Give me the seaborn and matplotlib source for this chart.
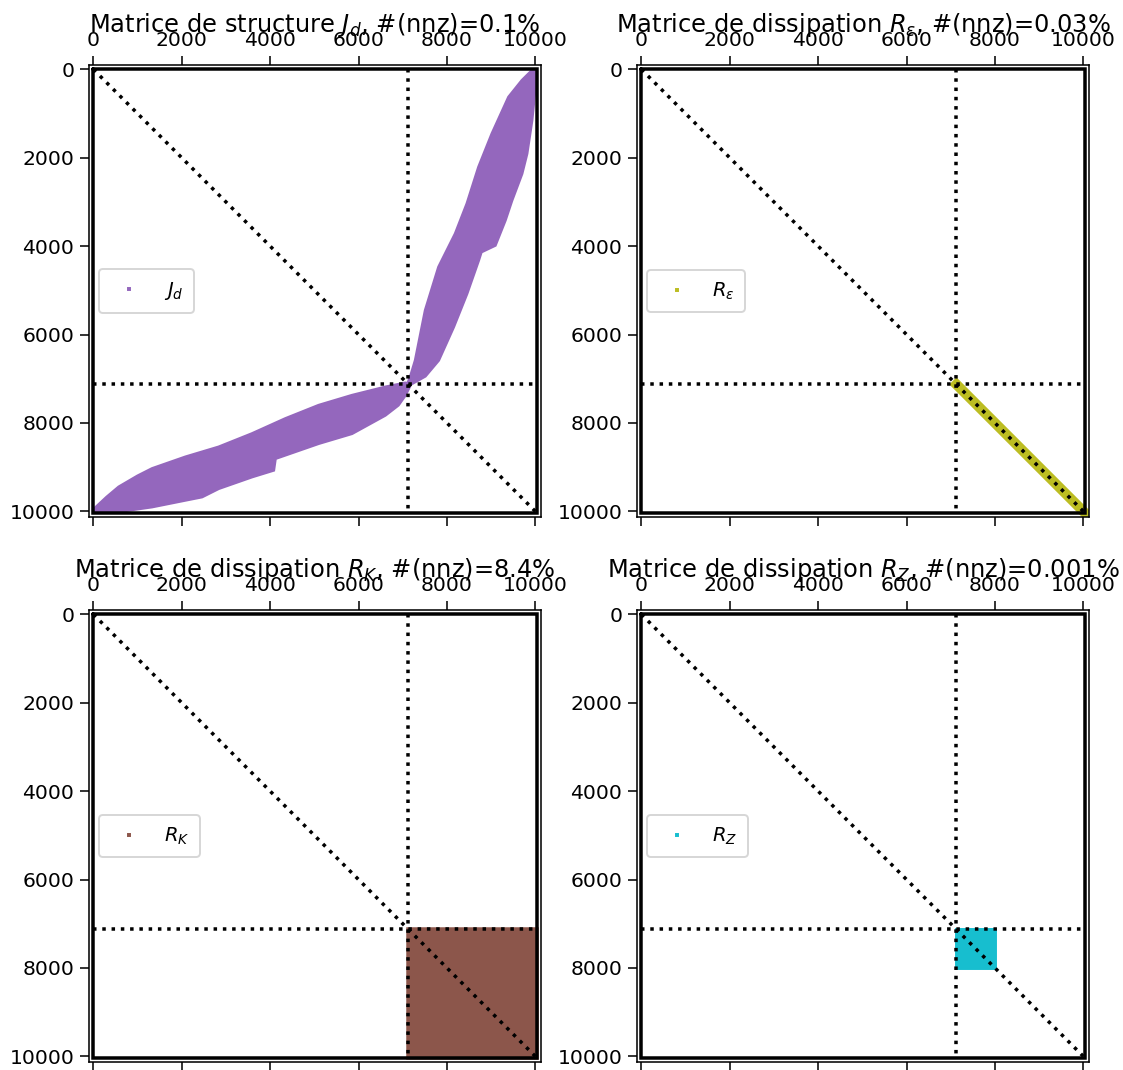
import numpy as np
import pandas as pd
import matplotlib
matplotlib.use("Agg")
import matplotlib.pyplot as plt
import seaborn as sns

# ---------------- data ----------------
N = 10030            # matrix size
n1 = 7130            # block split index

titles = [
    r"Matrice de structure $J_d$, #(nnz)=0.1%",
    r"Matrice de dissipation $R_\varepsilon$, #(nnz)=0.03%",
    r"Matrice de dissipation $R_K$, #(nnz)=8.4%",
    r"Matrice de dissipation $R_Z$, #(nnz)=0.001%",
]
labels = [r"$J_d$", r"$R_\varepsilon$", r"$R_K$", r"$R_Z$"]
colors = ["#9467bd", "#bcbd22", "#8c564b", "#17becf"]
tick_values = [0, 2000, 4000, 6000, 8000, 10000]

# J_d : lower-left branch (upper edge / lower edge)
jd_low_top_cols = [0, 300, 573, 1000, 1328, 2081, 2835, 3590, 4344, 5097, 5852, 6606, 7059, 7130]
jd_low_top_rows = [9960, 9680, 9450, 9200, 9034, 8771, 8545, 8243, 7903, 7602, 7376, 7188, 7097, 7110]
jd_low_bot_cols = [0, 573, 1328, 2081, 2458, 2835, 3590, 4080, 4118, 5097, 5852, 6606, 6900, 7059, 7160]
jd_low_bot_rows = [10030, 10010, 9902, 9751, 9676, 9487, 9223, 9072, 8808, 8468, 8243, 7828, 7600, 7376, 7170]
# J_d : upper-right branch (left edge / right edge)
jd_up_left_cols = [7100, 7190, 7285, 7511, 7813, 8190, 8454, 8718, 9020, 9397, 9699, 9950, 10030]
jd_up_left_rows = [7150, 6900, 6584, 5452, 4472, 3717, 3039, 2210, 1455, 626, 249, 0, 0]
jd_up_right_cols = [7160, 7511, 7813, 8152, 8454, 8718, 8778, 9095, 9321, 9472, 9699, 9812, 9925, 10000, 10030]
jd_up_right_rows = [7140, 6943, 6584, 5830, 5075, 4321, 4133, 3982, 3416, 2964, 2360, 1907, 1154, 400, 0]

# R_eps : diagonal band
reps_start, reps_end = n1, N
# R_K : full lower-right block
rk_start, rk_end = n1, N
# R_Z : small block
rz_start, rz_end = n1, 8000

# ---------------- style ----------------
sns.set_style("ticks")
plt.rcParams.update({
    "font.family": ["DejaVu Sans"],
    "mathtext.fontset": "dejavusans",
    "text.color": "black",
    "axes.labelcolor": "black",
    "xtick.labelsize": 10.5,
    "ytick.labelsize": 10.5,
    "legend.fontsize": 10,
    "axes.titlesize": 12.4,
    "axes.edgecolor": "black",
    "axes.linewidth": 0.8,
    "xtick.color": "black",
    "ytick.color": "black",
    "xtick.major.size": 4.5,
    "ytick.major.size": 4.5,
    "xtick.major.pad": 3,
    "ytick.major.pad": 3,
})

DPI = 140
fig = plt.figure(figsize=(1123 / DPI, 1070 / DPI), dpi=DPI)
W, H = 1123, 1070
pos_px = [(89, 65), (637, 65), (89, 610), (637, 610)]
size_px = 452
axes = [fig.add_axes([x / W, (H - y - size_px) / H, size_px / W, size_px / H]) for x, y in pos_px]

pad = 100
for k, ax in enumerate(axes):
    c = colors[k]
    if k == 0:
        poly_low = pd.DataFrame({
            "c": list(jd_low_top_cols) + list(jd_low_bot_cols[::-1]),
            "r": list(jd_low_top_rows) + list(jd_low_bot_rows[::-1]),
        })
        poly_up = pd.DataFrame({
            "c": list(jd_up_left_cols) + list(jd_up_right_cols[::-1]),
            "r": list(jd_up_left_rows) + list(jd_up_right_rows[::-1]),
        })
        for p in (poly_low, poly_up):
            ax.fill(p["c"], p["r"], facecolor=c, edgecolor=c, lw=1.5, zorder=2)
    elif k == 1:
        sns.lineplot(x=[reps_start, reps_end], y=[reps_start, reps_end], ax=ax,
                     color=c, lw=5.2, estimator=None, sort=False,
                     solid_capstyle="projecting", zorder=2)
    elif k == 2:
        ax.fill([rk_start, rk_end, rk_end, rk_start], [rk_start, rk_start, rk_end, rk_end],
                facecolor=c, edgecolor=c, lw=1.8, zorder=2)
    else:
        ax.fill([rz_start, rz_end, rz_end, rz_start], [rz_start, rz_start, rz_end, rz_end],
                facecolor=c, edgecolor=c, lw=1.5, zorder=2)

    # legend proxy marker
    ax.plot([], [], "s", color=c, markersize=1.2, label=labels[k])

    # dotted block lines and diagonal
    ax.plot([0, N], [0, N], color="black", ls=":", lw=1.8, zorder=3)
    ax.plot([n1, n1], [0, N], color="black", ls=":", lw=1.8, zorder=3)
    ax.plot([0, N], [n1, n1], color="black", ls=":", lw=1.8, zorder=3)
    # thick frame
    ax.plot([0, N, N, 0, 0], [0, 0, N, N, 0], color="black", lw=1.8, zorder=4,
            solid_joinstyle="miter")

    ax.set_xlim(-pad, N + pad)
    ax.set_ylim(N + pad, -pad)
    ax.set_xticks(tick_values)
    ax.set_yticks(tick_values)
    ax.xaxis.set_ticks_position("both")
    ax.tick_params(axis="x", labeltop=True, labelbottom=False)
    ax.set_xlabel("")
    ax.set_ylabel("")
    for s in ax.spines.values():
        s.set_visible(True)
        s.set_color("black")
    ax.set_title(titles[k], y=1.0, pad=17, color="black")
    ax.legend(loc="center left", borderpad=0.55)

fig.savefig("out.png", dpi=DPI)
